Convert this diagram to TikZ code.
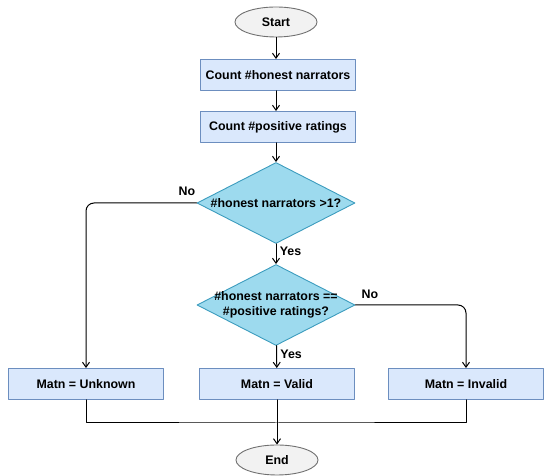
\documentclass[tikz,border=0pt]{standalone}
\usepackage{fontspec}
\setmainfont{Liberation Sans}
\usetikzlibrary{shapes.geometric,arrows.meta}
\definecolor{boxfill}{HTML}{DAE8FC}
\definecolor{boxline}{HTML}{6C8EBF}
\definecolor{decfill}{HTML}{9DDAEE}
\definecolor{decline}{HTML}{3C9CBE}
\definecolor{termfill}{HTML}{F2F2F2}
\definecolor{termline}{HTML}{707070}
\tikzset{
    lab/.style={
        font=\fontsize{12.4}{14.5}\selectfont\bfseries
    },
    stepbox/.style={
        lab, rectangle, draw=boxline, fill=boxfill, line width=0.9pt,
        minimum width=155pt, minimum height=31pt, inner sep=0pt
    },
    decision/.style={
        diamond, draw=decline, fill=decfill, line width=0.9pt,
        minimum width=158pt, minimum height=81pt, inner sep=0pt
    },
    terminal/.style={
        lab, ellipse, draw=termline, fill=termfill, line width=0.9pt,
        minimum width=82pt, minimum height=30pt, inner sep=0pt
    },
    flow/.style={line width=1pt, -{Straight Barb[length=5pt,width=7pt]}}
}

\begin{document}
\begin{tikzpicture}[x=1pt,y=1pt,line cap=round,line join=round]

\useasboundingbox (0,0) rectangle (550,476);

% main column
\node[terminal] (start) at (276,454) {Start};
\node[stepbox] (honest) at (278,401) {Count \#honest narrators};
\node[stepbox] (positive) at (278,349) {Count \#positive ratings};
\node[decision, label={[lab]center:\#honest narrators >1?}] (more) at (276,273) {};
\node[decision, label={[lab, align=center]center:\#honest narrators ==\\\#positive ratings?}] (equal) at (276,171) {};

% results
\node[stepbox] (unknown) at (86,92) {Matn = Unknown};
\node[stepbox] (valid) at (277,92) {Matn = Valid};
\node[stepbox] (invalid) at (466,92) {Matn = Invalid};
\node[terminal] (end) at (277,16) {End};
\coordinate (join) at (277,53);

% straight arrows
\draw[flow] (start) -- (start |- honest.north);
\draw[flow] (start |- honest.south) -- (start |- positive.north);
\draw[flow] (start |- positive.south) -- (more);
\draw[flow] (more) -- node[lab, right, pos=0.35] {Yes} (equal);
\draw[flow] (equal) -- node[lab, right, pos=0.4] {Yes} (valid);

% no branches
\draw[flow, rounded corners=8pt] (more.west) -| (unknown.north);
\node[lab] (no1) at (187,285) {No};
\draw[flow, rounded corners=8pt] (equal.east) -| (invalid.north);
\node[lab] (no2) at (370,182) {No};

% merge to end
\draw[line width=1pt] (unknown.south) |- (join) -| (invalid.south);
\draw[flow] (valid) -- (end);

\end{tikzpicture}
\end{document}
